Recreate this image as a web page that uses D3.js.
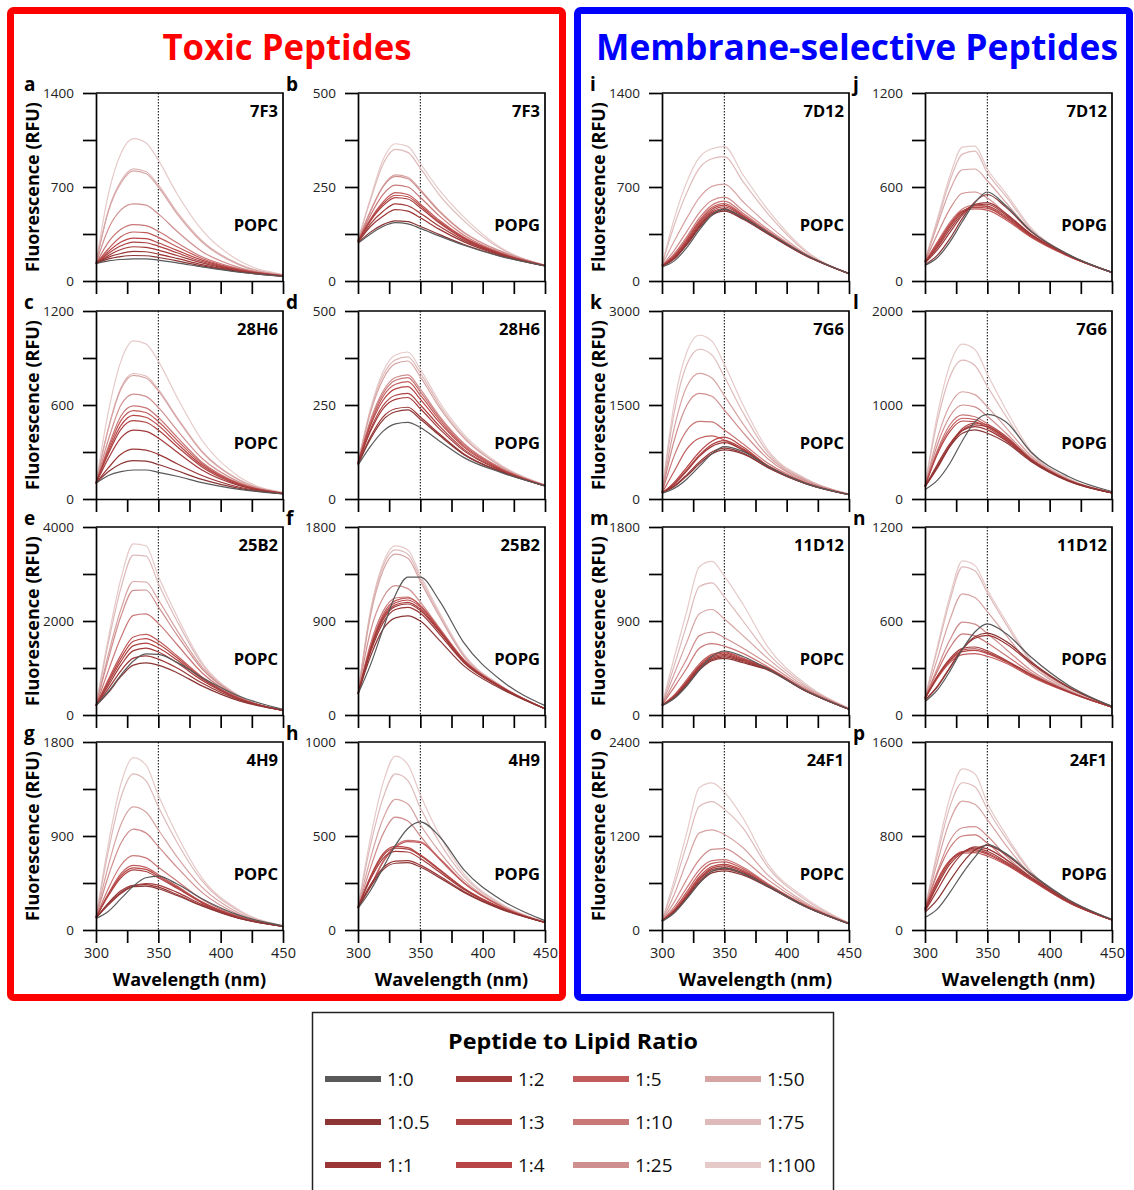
<!DOCTYPE html>
<html>
<head>
<meta charset="utf-8">
<script src="https://cdn.jsdelivr.net/npm/d3@7"></script>
<style>
  body { margin: 0; background: #fff; }
  svg text { font-family: "Open Sans", "DejaVu Sans", sans-serif; }
</style>
</head>
<body>
<div id="vis"></div>
<script>
const wavelengths = [300, 310, 320, 330, 340, 350, 365, 385, 415, 450]
const ratios = ['1:0', '1:0.5', '1:1', '1:2', '1:3', '1:4', '1:5', '1:10', '1:25', '1:50', '1:75', '1:100']
const ratioColors = ['#595959', '#8b3535', '#9c3636', '#a33a3a', '#ad4242', '#b84646',
                     '#c25b5b', '#c97777', '#d08f8f', '#d7a4a4', '#debaba', '#e6caca']
const peptides = ['7F3', '28H6', '25B2', '4H9', '7D12', '7G6', '11D12', '24F1']
const yMaxPOPC = [1400, 1200, 4000, 1800, 1400, 3000, 1800, 2400]
const yMaxPOPG = [500, 500, 1800, 1000, 1200, 2000, 1200, 1600]
const panelLetters = 'abcdefghijklmnop'

// spectra, one row per ratio (1:0 ... 1:100)
const f7F3_POPC = [
  [130,150,160,165,165,155,135,105,65,35],
  [130,165,182,190,188,175,150,112,68,35],
  [130,178,205,220,218,200,168,122,72,36],
  [130,190,235,255,250,230,190,135,76,37],
  [130,205,262,290,285,260,210,145,80,38],
  [130,220,290,320,315,285,228,155,82,38],
  [130,240,330,365,360,325,255,168,86,39],
  [130,290,385,420,412,370,285,180,90,40],
  [130,390,530,575,565,500,370,220,100,42],
  [130,520,730,820,800,700,500,290,120,45],
  [130,530,745,835,815,715,515,300,125,45],
  [130,650,950,1060,1030,900,650,380,150,50]
]
const f7F3_POPG = [
  [100,125,145,155,152,140,120,95,65,40],
  [102,130,150,160,158,145,124,97,66,40],
  [103,145,172,190,186,168,138,104,68,40],
  [104,152,185,205,200,180,146,108,70,40],
  [105,160,200,222,218,195,155,112,72,41],
  [105,162,205,228,224,200,158,114,72,41],
  [105,165,210,235,230,205,162,116,73,41],
  [106,175,230,255,250,222,174,122,75,41],
  [107,185,250,278,272,240,185,128,78,42],
  [107,187,252,282,276,243,188,130,79,42],
  [108,215,310,350,342,300,230,160,85,42],
  [108,220,322,365,358,312,243,170,88,42]
]
const f28H6_POPC = [
  [100,150,175,185,185,170,145,105,62,32],
  [100,175,225,245,242,220,180,125,68,33],
  [100,200,285,318,312,285,225,150,75,34],
  [100,260,390,440,432,390,300,185,85,35],
  [100,290,445,500,490,440,335,205,90,36],
  [100,305,470,534,522,470,355,215,94,36],
  [100,320,500,564,552,495,375,225,97,37],
  [100,335,530,594,582,520,395,235,100,37],
  [100,380,600,670,655,585,440,260,108,38],
  [100,450,700,789,772,690,515,300,120,40],
  [100,455,710,801,785,700,522,305,122,40],
  [100,560,880,1009,990,880,650,375,140,42]
]
const f28H6_POPG = [
  [90,140,180,200,204,190,155,110,70,35],
  [92,160,210,232,237,212,170,118,72,35],
  [92,165,218,240,244,218,174,120,73,35],
  [94,180,240,265,270,240,188,128,75,35],
  [94,185,248,276,281,250,195,132,76,35],
  [95,195,262,293,299,265,205,138,78,35],
  [95,200,272,305,312,276,212,142,80,36],
  [95,205,280,316,323,285,218,146,81,36],
  [95,210,286,323,330,292,222,148,82,36],
  [96,230,318,360,367,325,245,162,86,37],
  [96,235,328,370,378,335,252,166,87,37],
  [96,240,338,383,391,345,260,172,90,38]
]
const f25B2_POPC = [
  [200,500,850,1150,1300,1290,1120,800,400,120],
  [200,480,820,1060,1108,1060,900,620,300,100],
  [200,560,940,1210,1256,1190,1000,680,320,100],
  [200,630,1060,1370,1425,1340,1110,740,335,100],
  [200,680,1140,1475,1531,1430,1170,770,345,100],
  [200,720,1210,1570,1623,1510,1220,790,350,100],
  [200,760,1280,1660,1714,1580,1260,810,355,100],
  [200,950,1650,2120,2152,1950,1500,900,370,100],
  [200,1200,2100,2650,2660,2300,1700,980,380,100],
  [200,1300,2250,2840,2830,2450,1800,1020,390,100],
  [200,1550,2700,3400,3380,2800,2000,1080,400,100],
  [200,1650,2900,3640,3600,2950,2100,1120,410,100]
]
const f25B2_POPG = [
  [200,480,820,1150,1320,1320,1100,690,330,90],
  [200,560,820,930,950,900,720,470,250,60],
  [200,600,880,1010,1030,975,780,500,260,60],
  [200,620,910,1040,1063,1000,800,510,265,60],
  [200,630,925,1055,1079,1015,810,515,265,60],
  [200,640,940,1075,1101,1035,820,520,268,60],
  [200,650,960,1095,1121,1050,830,525,270,60],
  [200,680,990,1120,1130,1050,830,525,270,60],
  [200,800,1120,1238,1210,1080,840,530,270,60],
  [200,950,1380,1541,1500,1280,950,560,275,60],
  [200,980,1420,1581,1540,1310,970,570,278,60],
  [200,1000,1450,1619,1580,1340,990,580,280,60]
]
const f4H9_POPC = [
  [110,180,300,420,500,515,440,300,140,40],
  [115,250,360,415,420,395,330,230,110,35],
  [115,260,375,428,435,410,340,235,112,35],
  [115,240,350,420,444,430,360,245,115,35],
  [118,330,500,575,560,500,400,260,120,36],
  [118,340,520,595,580,515,410,265,122,36],
  [120,350,540,618,600,530,420,270,124,36],
  [120,400,620,712,690,600,470,295,130,37],
  [120,520,830,965,930,800,600,360,145,38],
  [120,620,1010,1178,1130,960,700,410,160,40],
  [120,760,1270,1495,1430,1180,840,470,180,40],
  [120,830,1400,1650,1580,1290,910,500,190,42]
]
const f4H9_POPG = [
  [115,210,330,450,540,575,500,320,160,50],
  [118,230,320,355,358,335,280,200,110,40],
  [118,240,330,366,369,345,288,205,112,40],
  [118,270,380,418,415,380,310,215,115,40],
  [118,280,395,435,430,395,320,220,117,40],
  [118,285,405,445,438,400,325,222,118,40],
  [118,230,360,440,470,465,380,250,125,40],
  [118,235,365,448,477,470,385,252,126,40],
  [120,330,510,600,580,500,380,250,125,42],
  [120,380,590,695,670,560,420,265,130,42],
  [120,450,700,830,795,650,470,285,135,44],
  [120,490,780,925,880,720,510,300,140,45]
]
const f7D12_POPC = [
  [105,150,250,380,490,533,470,360,195,55],
  [110,165,270,395,490,520,460,350,190,55],
  [110,170,278,405,500,530,465,352,190,55],
  [110,175,285,415,510,540,470,355,192,55],
  [112,182,295,428,522,553,478,358,193,55],
  [112,188,305,440,535,565,485,362,195,55],
  [112,195,315,452,548,577,492,365,196,55],
  [115,205,330,470,565,595,505,372,198,55],
  [115,230,370,510,600,624,525,385,200,55],
  [118,300,470,620,705,722,590,420,205,55],
  [120,420,660,840,910,926,740,500,220,55],
  [120,470,740,920,985,1000,790,530,230,55]
]
const f7D12_POPG = [
  [100,150,250,380,500,568,480,320,170,55],
  [105,165,270,400,505,552,470,315,168,55],
  [115,200,310,420,490,500,430,300,165,55],
  [118,215,330,430,485,490,420,295,163,55],
  [120,225,345,440,480,478,410,290,162,55],
  [120,235,355,445,470,465,400,285,160,55],
  [120,245,365,448,460,452,390,280,158,55],
  [120,250,375,460,485,475,400,285,160,55],
  [125,300,460,560,568,530,430,295,162,55],
  [128,360,580,710,715,640,500,320,165,55],
  [130,380,640,810,829,690,540,330,168,55],
  [130,400,670,855,861,715,560,340,170,55]
]
const f7G6_POPC = [
  [90,170,320,520,720,837,760,520,250,70],
  [95,200,370,560,720,784,720,500,245,70],
  [95,210,390,590,750,811,735,505,248,70],
  [95,240,450,680,840,901,780,520,250,70],
  [95,250,470,700,870,933,800,525,252,70],
  [95,270,510,750,920,986,830,530,255,70],
  [95,450,800,970,1007,940,780,530,256,70],
  [100,700,1100,1240,1230,1100,880,570,270,72],
  [100,950,1500,1686,1640,1420,1060,640,290,75],
  [100,1150,1800,2004,1930,1650,1200,690,305,78],
  [100,1400,2150,2390,2300,1950,1380,740,320,80],
  [100,1550,2350,2613,2520,2150,1500,780,330,80]
]
const f7G6_POPG = [
  [100,200,380,620,820,901,820,500,240,80],
  [130,350,560,700,735,700,600,400,190,65],
  [130,370,590,730,770,735,620,410,195,65],
  [130,330,560,730,788,770,650,420,198,65],
  [130,340,570,750,806,790,665,425,200,65],
  [135,480,720,830,820,760,630,410,195,65],
  [135,500,750,859,845,780,640,415,197,65],
  [135,520,790,894,875,800,650,420,198,65],
  [135,580,880,1000,980,880,700,440,205,68],
  [135,650,1000,1141,1110,980,760,460,210,70],
  [135,830,1300,1477,1420,1200,880,490,215,70],
  [135,900,1430,1647,1590,1330,950,510,220,72]
]
const f11D12_POPC = [
  [90,160,280,430,560,613,560,440,235,55],
  [90,165,290,430,520,543,500,430,230,55],
  [90,170,300,440,530,556,510,435,232,55],
  [92,175,310,452,542,568,520,440,233,55],
  [92,180,318,462,555,581,528,445,235,55],
  [92,185,325,472,566,594,535,448,236,55],
  [95,195,340,490,580,605,545,450,238,55],
  [95,270,450,640,683,660,590,460,245,58],
  [95,320,540,760,794,740,640,490,255,60],
  [98,400,700,970,1010,920,760,540,270,62],
  [100,480,870,1230,1265,1130,900,590,285,65],
  [100,560,1000,1420,1470,1330,1060,650,300,65]
]
const f11D12_POPG = [
  [85,160,280,420,530,582,520,370,190,55],
  [95,180,300,420,500,522,470,340,180,55],
  [95,185,305,420,490,508,455,330,175,55],
  [105,250,360,425,434,410,350,260,150,50],
  [105,245,352,415,423,400,345,255,148,50],
  [105,240,345,405,413,392,340,252,147,50],
  [105,235,335,385,392,375,330,245,145,50],
  [108,280,430,518,505,460,380,270,152,50],
  [108,300,480,593,580,520,420,285,155,50],
  [110,360,610,773,750,660,510,320,160,52],
  [110,420,730,946,920,780,580,340,165,52],
  [110,440,760,984,955,800,600,350,168,52]
]
const f24F1_POPC = [
  [110,220,400,600,750,790,720,560,300,80],
  [115,230,410,600,730,755,700,550,298,80],
  [115,235,420,620,750,777,715,555,300,80],
  [115,240,430,640,770,797,730,560,302,80],
  [118,245,440,655,790,818,745,565,305,80],
  [118,255,460,680,810,837,760,570,308,82],
  [120,270,490,720,850,869,780,580,310,82],
  [120,300,540,770,885,899,800,590,315,82],
  [120,360,650,900,1030,1039,900,640,330,85],
  [120,460,880,1240,1279,1220,1050,700,350,85],
  [120,580,1100,1580,1639,1540,1300,800,385,88],
  [120,650,1250,1820,1879,1760,1430,840,410,90]
]
const f24F1_POPG = [
  [107,180,320,480,620,729,650,480,260,90],
  [150,260,420,570,680,721,640,470,255,88],
  [160,340,520,650,707,690,600,450,245,85],
  [165,380,560,660,696,670,580,440,240,85],
  [170,400,580,665,684,655,570,435,238,85],
  [175,420,590,668,673,645,562,430,236,85],
  [180,430,595,655,659,630,555,425,235,85],
  [180,480,700,800,809,740,600,440,238,85],
  [180,500,760,870,879,800,630,450,240,85],
  [180,580,930,1097,1070,940,720,470,245,85],
  [180,640,1050,1253,1220,1030,780,490,250,88],
  [180,680,1130,1371,1330,1080,810,500,255,88]
]

const spectraPOPC = [f7F3_POPC, f28H6_POPC, f25B2_POPC, f4H9_POPC, f7D12_POPC, f7G6_POPC, f11D12_POPC, f24F1_POPC]
const spectraPOPG = [f7F3_POPG, f28H6_POPG, f25B2_POPG, f4H9_POPG, f7D12_POPG, f7G6_POPG, f11D12_POPG, f24F1_POPG]

const width = 1134
const height = 1190
const colX = [96, 358, 662, 925]
const rowY = [93, 311, 527, 742]
const plotW = 187
const plotH = 188

let svg = d3.select('#vis').append('svg')
    .attr('width', width)
    .attr('height', height)

svg.append('rect').attr('width', width).attr('height', height).attr('fill', '#fff')

// group frames and titles
svg.append('rect')
    .attr('x', 10.5).attr('y', 10.5).attr('width', 552).attr('height', 987)
    .attr('rx', 3).attr('fill', 'none').attr('stroke', '#ff0000').attr('stroke-width', 7)
svg.append('rect')
    .attr('x', 577.5).attr('y', 10.5).attr('width', 552).attr('height', 987)
    .attr('rx', 3).attr('fill', 'none').attr('stroke', '#0000ff').attr('stroke-width', 7)

svg.append('text')
    .attr('x', 287).attr('y', 60)
    .attr('text-anchor', 'middle')
    .attr('font-size', 36).attr('font-weight', 'bold').attr('fill', '#ff0000')
    .attr('textLength', 249).attr('lengthAdjust', 'spacingAndGlyphs')
    .text('Toxic Peptides')
svg.append('text')
    .attr('x', 857).attr('y', 60)
    .attr('text-anchor', 'middle')
    .attr('font-size', 36).attr('font-weight', 'bold').attr('fill', '#0000ff')
    .attr('textLength', 522).attr('lengthAdjust', 'spacingAndGlyphs')
    .text('Membrane-selective Peptides')

let xScale = d3.scaleLinear().domain([300, 450]).range([0, plotW])

function drawPanel(pIndex, lipid){
    let group = pIndex < 4 ? 0 : 1
    let row = pIndex % 4
    let col = group * 2 + (lipid === 'POPG' ? 1 : 0)
    let yMax = lipid === 'POPG' ? yMaxPOPG[pIndex] : yMaxPOPC[pIndex]
    let spectra = lipid === 'POPG' ? spectraPOPG[pIndex] : spectraPOPC[pIndex]
    let letter = panelLetters[pIndex * 2 + (lipid === 'POPG' ? 1 : 0)]
    let x0 = colX[col], y0 = rowY[row]

    let g = svg.append('g').attr('transform', `translate(${x0},${y0})`)
    let yScale = d3.scaleLinear().domain([0, yMax]).range([plotH, 0])

    // dotted marker at 350 nm
    g.append('line')
        .attr('x1', xScale(350)).attr('x2', xScale(350))
        .attr('y1', 0).attr('y2', plotH)
        .attr('stroke', '#000').attr('stroke-width', 1)
        .attr('stroke-dasharray', '1.5,1.5')

    let line = d3.line()
        .x((d, i) => xScale(wavelengths[i]))
        .y(d => yScale(d))
        .curve(d3.curveMonotoneX)

    // lightest first so the darker spectra sit on top
    let order = d3.range(spectra.length).reverse()
    g.selectAll('.spectrum')
        .data(order)
        .enter().append('path')
        .attr('class', 'spectrum')
        .attr('d', i => line(spectra[i]))
        .attr('fill', 'none')
        .attr('stroke', i => ratioColors[i])
        .attr('stroke-width', 1.2)

    // frame
    g.append('path')
        .attr('d', `M0,0H${plotW}V${plotH}`)
        .attr('fill', 'none').attr('stroke', '#000').attr('stroke-width', 1.7)

    let yTicks = [0, yMax / 4, yMax / 2, yMax * 3 / 4, yMax]
    let yAxis = d3.axisLeft(yScale)
        .tickValues(yTicks)
        .tickFormat((d, i) => i % 2 === 0 ? d : '')
        .tickSize(13).tickSizeOuter(0).tickPadding(9)
    let ya = g.append('g').call(yAxis)
    ya.selectAll('path, line').attr('stroke', '#000').attr('stroke-width', 1.7)
    ya.selectAll('text').attr('font-size', 13.5).attr('fill', '#222')
        .attr('font-family', '"Open Sans", sans-serif')

    let xAxis = d3.axisBottom(xScale)
        .tickValues([300, 325, 350, 375, 400, 425, 450])
        .tickFormat(d => (row === 3 && d % 50 === 0) ? d : '')
        .tickSize(13).tickSizeOuter(0).tickPadding(5)
    let xa = g.append('g').attr('transform', `translate(0,${plotH})`).call(xAxis)
    xa.selectAll('path, line').attr('stroke', '#000').attr('stroke-width', 1.7)
    xa.selectAll('text').attr('font-size', 14.5).attr('fill', '#222')
        .attr('font-family', '"Open Sans", sans-serif')

    // labels inside the plot
    g.append('text')
        .attr('x', plotW - 5).attr('y', 24)
        .attr('text-anchor', 'end').attr('font-size', 16.5).attr('font-weight', 'bold')
        .text(peptides[pIndex])
    g.append('text')
        .attr('x', plotW - 5).attr('y', 138)
        .attr('text-anchor', 'end').attr('font-size', 16.5).attr('font-weight', 'bold')
        .text(lipid)

    // panel letter
    g.append('text')
        .attr('x', -72).attr('y', -2)
        .attr('font-size', 19).attr('font-weight', 'bold')
        .text(letter)

    if (lipid === 'POPC') {
        g.append('text')
            .attr('transform', `translate(-57,${plotH / 2}) rotate(-90)`)
            .attr('text-anchor', 'middle')
            .attr('font-size', 18).attr('font-weight', 'bold')
            .text('Fluorescence (RFU)')
    }
    if (row === 3) {
        g.append('text')
            .attr('x', plotW / 2).attr('y', plotH + 56)
            .attr('text-anchor', 'middle')
            .attr('font-size', 18).attr('font-weight', 'bold')
            .text('Wavelength (nm)')
    }
}

peptides.forEach((p, i) => {
    drawPanel(i, 'POPC')
    drawPanel(i, 'POPG')
})

// legend
let legend = svg.append('g')
legend.append('rect')
    .attr('x', 312.5).attr('y', 1012.5).attr('width', 521).attr('height', 190)
    .attr('fill', '#fff').attr('stroke', '#222').attr('stroke-width', 1.5)
legend.append('text')
    .attr('x', 573).attr('y', 1049)
    .attr('text-anchor', 'middle').attr('font-size', 22).attr('font-weight', 'bold')
    .attr('textLength', 250).attr('lengthAdjust', 'spacingAndGlyphs')
    .text('Peptide to Lipid Ratio')

const legendColX = [325, 456, 573, 705]
const legendRowY = [1079, 1122, 1165]
ratios.forEach((r, i) => {
    let cx = legendColX[Math.floor(i / 3)]
    let cy = legendRowY[i % 3]
    legend.append('line')
        .attr('x1', cx).attr('x2', cx + 56)
        .attr('y1', cy).attr('y2', cy)
        .attr('stroke', ratioColors[i]).attr('stroke-width', 6)
    legend.append('text')
        .attr('x', cx + 62).attr('y', cy)
        .attr('dominant-baseline', 'central')
        .attr('font-size', 19).attr('fill', '#111')
        .text(r)
})
</script>
</body>
</html>
